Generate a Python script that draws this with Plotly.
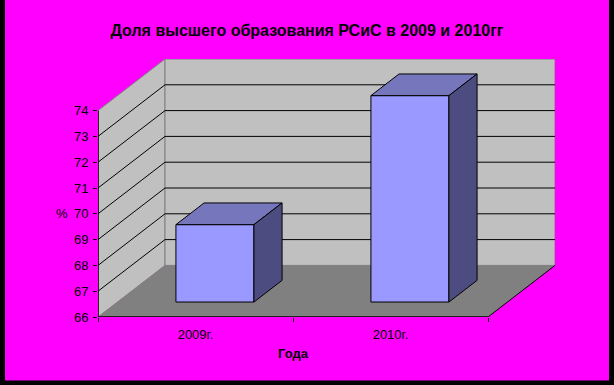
import plotly.graph_objects as go

categories = ["2009г.", "2010г."]
values = [69.0, 74.0]
y_ticks = [66, 67, 68, 69, 70, 71, 72, 73, 74]
title_text = "Доля высшего образования РСиС в 2009 и 2010гг"
x_title = "Года"
y_title = "%"

Y0, YMAX = 66, 74
DX, DY = 0.3436, 2.0          # oblique depth offset (axis units)
F0, F1 = 0.29, 0.71           # bar depth span (fraction of depth)
W = 0.4                       # bar width
NC = len(categories)

FRONT, TOP, SIDE = "#9999FF", "#7676BC", "#4C4C80"
WALL, FLOOR, EDGE = "#C0C0C0", "#808080", "#808080"
BG = "#FF00FF"
FONT = "Liberation Sans, Arial, sans-serif"

fig = go.Figure()

# bars: front face as real bars, top and side faces as polygons
for i, v in enumerate(values):
    xc = i + 0.5
    xl, xr = xc - W / 2, xc + W / 2
    fig.add_trace(go.Bar(
        x=[xc + F0 * DX], y=[v - Y0], base=[Y0 + F0 * DY], width=W,
        marker=dict(color=FRONT, line=dict(color="black", width=1)),
        hoverinfo="skip", showlegend=False))
    fig.add_trace(go.Scatter(
        x=[xl + F0 * DX, xr + F0 * DX, xr + F1 * DX, xl + F1 * DX, xl + F0 * DX],
        y=[v + F0 * DY, v + F0 * DY, v + F1 * DY, v + F1 * DY, v + F0 * DY],
        mode="lines", fill="toself", fillcolor=TOP,
        line=dict(color="black", width=1), hoverinfo="skip", showlegend=False))
    fig.add_trace(go.Scatter(
        x=[xr + F0 * DX, xr + F0 * DX, xr + F1 * DX, xr + F1 * DX, xr + F0 * DX],
        y=[Y0 + F0 * DY, v + F0 * DY, v + F1 * DY, Y0 + F1 * DY, Y0 + F0 * DY],
        mode="lines", fill="toself", fillcolor=SIDE,
        line=dict(color="black", width=1), hoverinfo="skip", showlegend=False))

shapes = []
# side wall
shapes.append(dict(type="path", xref="x", yref="y", layer="below",
                   path=f"M0,{Y0} L0,{YMAX} L{DX},{YMAX+DY} L{DX},{Y0+DY} Z",
                   fillcolor=WALL, line=dict(color=EDGE, width=1)))
# back wall
shapes.append(dict(type="rect", xref="x", yref="y", layer="below",
                   x0=DX, x1=NC + DX, y0=Y0 + DY, y1=YMAX + DY,
                   fillcolor=WALL, line=dict(color=EDGE, width=1)))
# gridlines
for t in y_ticks[1:-1]:
    shapes.append(dict(type="line", xref="x", yref="y", layer="below",
                       x0=0, y0=t, x1=DX, y1=t + DY, line=dict(color="black", width=1)))
    shapes.append(dict(type="line", xref="x", yref="y", layer="below",
                       x0=DX, y0=t + DY, x1=NC + DX, y1=t + DY, line=dict(color="black", width=1)))
# floor
shapes.append(dict(type="path", xref="x", yref="y", layer="below",
                   path=f"M0,{Y0} L{NC},{Y0} L{NC+DX},{Y0+DY} L{DX},{Y0+DY} Z",
                   fillcolor=FLOOR, line=dict(width=0)))
shapes.append(dict(type="line", xref="x", yref="y", layer="below",
                   x0=NC, y0=Y0, x1=NC + DX, y1=Y0 + DY, line=dict(color="black", width=1)))
# axis lines
shapes.append(dict(type="line", xref="x", yref="y", layer="above",
                   x0=0, y0=Y0, x1=0, y1=YMAX, line=dict(color="black", width=1.5)))
shapes.append(dict(type="line", xref="x", yref="y", layer="above",
                   x0=0, y0=Y0, x1=NC, y1=Y0, line=dict(color="black", width=1.5)))

fig.update_layout(
    width=614, height=385,
    margin=dict(l=98, r=59, t=59, b=68, pad=0),
    paper_bgcolor=BG, plot_bgcolor="rgba(0,0,0,0)",
    font=dict(family=FONT, color="black", size=13),
    shapes=shapes,
    title=dict(text=f"<b>{title_text}</b>", x=0.5, xanchor="center",
               y=1 - 30 / 385, yanchor="middle",
               font=dict(size=16, family=FONT, color="black")),
    xaxis=dict(range=[0, NC + DX], showgrid=False, zeroline=False, showline=False,
               tickvals=[i + 0.5 for i in range(NC)], ticktext=categories,
               ticks="", ticklabelstandoff=8,
               minor=dict(tickvals=list(range(NC + 1)), ticks="outside",
                          ticklen=4, tickcolor="black", tickwidth=1, showgrid=False),
               tickfont=dict(size=13)),
    yaxis=dict(range=[Y0, YMAX + DY], showgrid=False, zeroline=False, showline=False,
               tickvals=y_ticks, ticks="outside", ticklen=4, tickcolor="black",
               ticklabelstandoff=2, tickfont=dict(size=13)),
    annotations=[
        dict(text=f"<b>{x_title}</b>", xref="paper", yref="paper",
             x=(293 - 98) / 457, y=(317 - 353) / 258, showarrow=False,
             xanchor="center", yanchor="middle", font=dict(size=13)),
        dict(text=y_title, xref="paper", yref="paper",
             x=(62 - 98) / 457, y=(317 - 213) / 258, showarrow=False,
             xanchor="center", yanchor="middle", font=dict(size=13)),
    ],
)

# black outer frame
fig.add_shape(type="rect", xref="paper", yref="paper", layer="below",
              x0=(-98 + 2.5) / 457, x1=(614 - 98 - 2.5) / 457,
              y0=(317 - 385 + 2) / 258, y1=(317 + 2.5) / 258,
              line=dict(color="black", width=5), fillcolor="rgba(0,0,0,0)")

fig.write_html("out.html")
